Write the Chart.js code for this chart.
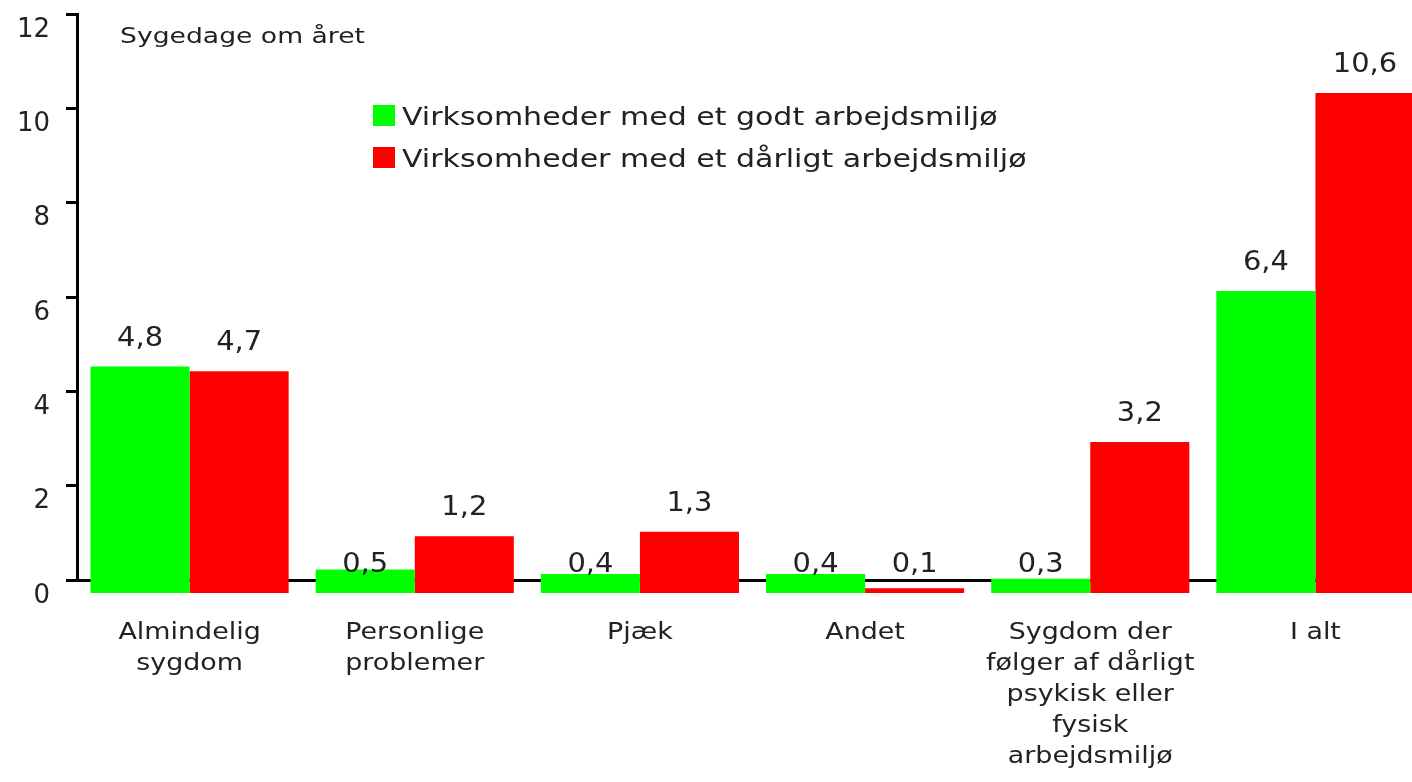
<!DOCTYPE html>
<html lang="da">
<head>
<meta charset="UTF-8">
<title>Sygedage om året</title>
<script src="https://cdn.jsdelivr.net/npm/chart.js"></script>
<style>
    html, body {
        margin: 0;
        padding: 0;
        background: #fff;
        overflow: hidden;
    }
    .wrap {
        position: relative;
        width: 1430px;
        height: 782px;
    }
</style>
</head>
<body>
<div class="wrap"><canvas id="chart" width="1430" height="782"></canvas></div>
<script>
    const categories = [
        ['Almindelig', 'sygdom'],
        ['Personlige', 'problemer'],
        ['Pjæk'],
        ['Andet'],
        ['Sygdom der', 'følger af dårligt', 'psykisk eller', 'fysisk', 'arbejdsmiljø'],
        ['I alt']
    ];
    const seriesNames = [
        'Virksomheder med et godt arbejdsmiljø',
        'Virksomheder med et dårligt arbejdsmiljø'
    ];
    const goodValues = [4.8, 0.5, 0.4, 0.4, 0.3, 6.4];
    const badValues = [4.7, 1.2, 1.3, 0.1, 3.2, 10.6];
    const yTicks = [0, 2, 4, 6, 8, 10, 12];
    const axisTitle = 'Sygedage om året';

    // the original draws every bar from slightly under the zero line
    const BAR_BASE = -0.275;
    const FONT = '"DejaVu Sans", Verdana, sans-serif';
    const TEXT = '#222';

    const fmt = v => String(v).replace('.', ',');

    // the source used a wide Verdana-like face; stretch DejaVu to match
    function wideText(ctx, text, x, y, sx, align) {
        ctx.save();
        ctx.translate(x, y);
        ctx.scale(sx, 1);
        ctx.textAlign = align;
        ctx.fillText(text, 0, 0);
        ctx.restore();
    }

    const labelsPlugin = {
        id: 'labels',
        afterDraw(chart) {
            const ctx = chart.ctx;
            ctx.save();
            ctx.fillStyle = TEXT;
            ctx.textBaseline = 'alphabetic';

            // value labels
            ctx.font = '27px ' + FONT;
            chart.data.datasets.forEach((ds, i) => {
                const values = i === 0 ? goodValues : badValues;
                chart.getDatasetMeta(i).data.forEach((bar, j) => {
                    wideText(ctx, fmt(values[j]), bar.x, bar.y - 21, 1.07, 'center');
                });
            });

            // category labels
            ctx.font = '23px ' + FONT;
            const xs = chart.scales.x;
            categories.forEach((lines, i) => {
                const cx = xs.getPixelForValue(i);
                lines.forEach((line, k) => {
                    wideText(ctx, line, cx, 639 + k * 31, 1.17, 'center');
                });
            });

            // axis title
            ctx.font = '22px ' + FONT;
            wideText(ctx, axisTitle, 120, 43, 1.21, 'left');

            // legend
            ctx.font = '25px ' + FONT;
            chart.data.datasets.forEach((ds, i) => {
                const y = 105 + i * 42;
                ctx.fillStyle = ds.backgroundColor;
                ctx.fillRect(373, y, 22, 21);
                ctx.fillStyle = TEXT;
                wideText(ctx, ds.label, 402, y + 20, 1.2, 'left');
            });
            ctx.restore();
        }
    };

    new Chart(document.getElementById('chart'), {
        type: 'bar',
        data: {
            labels: categories,
            datasets: [
                {
                    label: seriesNames[0],
                    data: goodValues.map(v => [BAR_BASE, BAR_BASE + v]),
                    backgroundColor: '#00ff00'
                },
                {
                    label: seriesNames[1],
                    data: badValues.map(v => [BAR_BASE, BAR_BASE + v]),
                    backgroundColor: '#ff0000'
                }
            ]
        },
        options: {
            responsive: false,
            devicePixelRatio: 1,
            animation: false,
            clip: false,
            categoryPercentage: 0.88,
            barPercentage: 1,
            layout: { padding: { top: 14, right: 2, left: 0, bottom: 0 } },
            plugins: {
                legend: { display: false },
                tooltip: { enabled: false }
            },
            scales: {
                x: {
                    z: 1,
                    grid: { display: false, drawTicks: false },
                    border: { display: true, color: '#000', width: 3 },
                    ticks: { display: false },
                    afterFit(scale) {
                        scale.height = 202;
                        scale.paddingLeft = 0;
                        scale.paddingRight = 0;
                    }
                },
                y: {
                    min: 0,
                    max: 12,
                    grid: {
                        drawOnChartArea: false,
                        drawTicks: true,
                        tickLength: 11,
                        tickWidth: 3,
                        tickColor: '#000'
                    },
                    border: { display: true, color: '#000', width: 3 },
                    ticks: {
                        color: TEXT,
                        font: { family: FONT, size: 26 },
                        padding: 16,
                        labelOffset: 16
                    },
                    afterBuildTicks(scale) {
                        scale.ticks = yTicks.map(v => ({ value: v }));
                    },
                    afterFit(scale) {
                        scale.width = 77;
                        scale.paddingTop = 0;
                        scale.paddingBottom = 0;
                    }
                }
            }
        },
        plugins: [labelsPlugin]
    });
</script>
</body>
</html>
